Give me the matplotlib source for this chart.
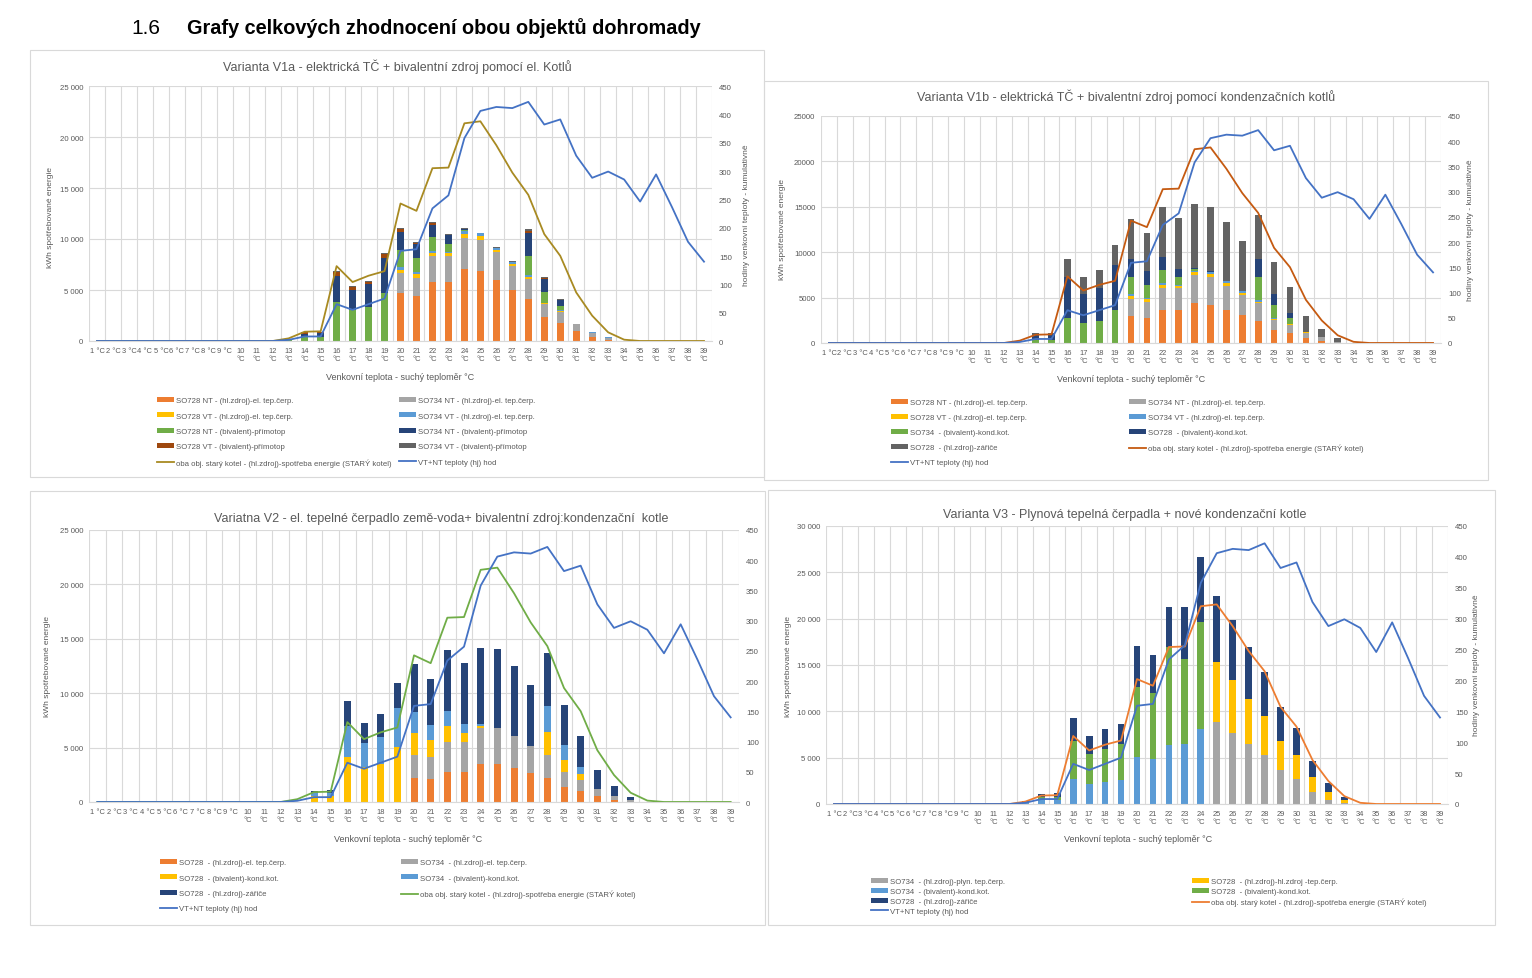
import numpy as np
import matplotlib
matplotlib.use('Agg')
import matplotlib.pyplot as plt
from matplotlib.patches import Rectangle
from matplotlib.ticker import FuncFormatter, MultipleLocator

plt.rcParams['font.family'] = ['Liberation Sans', 'DejaVu Sans']

W, H = 1532, 979
SEDA = '#595959'

# kategorie 1 °C .. 39 °C
teploty = ['1 °C', '2 °C', '3 °C', '4 °C', '5 °C', '6 °C', '7 °C', '8 °C', '9 °C'] + \
          [str(t) + '\n°C' for t in range(10, 40)]

# hodiny venkovni teploty (prava osa), stejne ve vsech grafech
hodiny = [0, 0, 0, 0, 0, 0, 0, 0, 0, 0, 0, 0, 2, 8, 8, 65, 55, 65, 75, 159,
          162, 234, 257, 358, 406, 413, 411, 422, 382, 391, 327, 288, 299, 285, 246, 294,
          236, 175, 140]
# stary kotel - spotreba energie (leva osa)
stary_kotel = [0, 0, 0, 0, 0, 0, 0, 0, 0, 0, 0, 0, 260, 910, 950, 7340, 5780, 6400, 6850, 13480,
               12760, 16940, 17000, 21340, 21540, 19190, 16510, 14330, 10480, 8350, 4760, 2480, 850, 130, 0, 0,
               0, 0, 0]

# sloupce - hodnoty od 13 °C do 33 °C (jinde nula)
# V1a
v1a_728nt_hl = [0, 0, 0, 0, 0, 0, 0, 4740, 4380, 5760, 5790, 7070, 6910, 5950, 5000, 4110, 2370, 1780, 1010, 390, 100]
v1a_734nt_hl = [0, 0, 0, 0, 0, 0, 0, 1940, 1840, 2560, 2530, 3030, 3020, 2770, 2340, 1940, 1220, 1080, 620, 430, 190]
v1a_728vt_hl = [0, 0, 0, 0, 0, 0, 0, 320, 360, 330, 270, 430, 370, 230, 190, 200, 90, 70, 0, 0, 0]
v1a_734vt_hl = [0, 0, 0, 0, 0, 0, 0, 240, 160, 170, 130, 290, 260, 190, 200, 200, 40, 70, 40, 30, 100]
v1a_728nt_biv = [50, 430, 430, 3790, 3030, 3360, 4670, 1710, 1380, 1340, 820, 100, 0, 0, 0, 1870, 1080, 390, 0, 0, 0]
v1a_734nt_biv = [50, 300, 390, 2620, 2000, 2200, 3450, 1740, 1420, 1250, 820, 100, 0, 0, 0, 2240, 1290, 620, 0, 0, 0]
v1a_728vt_biv = [50, 120, 50, 390, 270, 260, 400, 260, 80, 170, 70, 0, 0, 0, 0, 260, 130, 50, 0, 0, 0]
v1a_734vt_biv = [30, 50, 40, 110, 100, 100, 100, 140, 50, 100, 100, 70, 30, 70, 70, 130, 100, 100, 30, 30, 0]
# V1b
v1b_728nt_hl = [0, 0, 0, 0, 0, 0, 0, 2960, 2700, 3610, 3580, 4380, 4230, 3650, 3070, 2450, 1390, 1060, 510, 220, 30]
v1b_734nt_hl = [0, 0, 0, 0, 0, 0, 0, 1930, 1860, 2450, 2440, 3100, 3030, 2630, 2260, 1930, 1130, 950, 580, 400, 120]
v1b_728vt_hl = [0, 0, 0, 0, 0, 0, 0, 290, 260, 330, 290, 290, 290, 290, 220, 180, 140, 70, 80, 0, 0]
v1b_734vt_hl = [0, 0, 0, 0, 0, 0, 0, 180, 180, 220, 110, 150, 260, 250, 180, 220, 80, 40, 0, 0, 0]
v1b_734_biv = [0, 290, 290, 2700, 2150, 2410, 3580, 1940, 1420, 1380, 880, 180, 0, 0, 0, 2450, 1420, 660, 0, 0, 0]
v1b_728_biv = [0, 590, 660, 4560, 3210, 3610, 5000, 1970, 1500, 1430, 880, 180, 100, 0, 0, 2040, 1200, 540, 0, 0, 0]
v1b_728_zar = [0, 180, 180, 2010, 1900, 2010, 2220, 4380, 4160, 5510, 5540, 7010, 7050, 6460, 5550, 4820, 3550, 2850, 1790, 880, 360]
# V2
v2_728_hl = [0, 0, 0, 0, 0, 0, 0, 2210, 2120, 2790, 2790, 3500, 3500, 3100, 2640, 2210, 1410, 1040, 580, 150, 0]
v2_734_hl = [0, 0, 0, 0, 0, 0, 0, 2150, 2050, 2700, 2700, 3310, 3310, 2970, 2510, 2150, 1320, 1020, 590, 400, 150]
v2_728_biv = [0, 520, 520, 4170, 3190, 3500, 5030, 1960, 1540, 1500, 860, 210, 0, 0, 0, 2050, 1100, 520, 0, 0, 0]
v2_734_biv = [0, 310, 310, 2800, 2240, 2450, 3590, 1930, 1350, 1380, 830, 130, 0, 0, 0, 2420, 1420, 640, 0, 0, 0]
v2_728_zar = [0, 210, 270, 2320, 1870, 2120, 2300, 4420, 4200, 5590, 5610, 7050, 7210, 6410, 5590, 4850, 3620, 2880, 1740, 920, 340]
# V3
v3_734_plyn = [0, 0, 0, 0, 0, 0, 0, 0, 0, 0, 0, 0, 8850, 7700, 6470, 5250, 3670, 2700, 1330, 470, 70]
v3_728_tc = [0, 0, 0, 0, 0, 0, 0, 0, 0, 0, 0, 0, 6510, 5720, 4900, 4210, 3160, 2550, 1550, 860, 400]
v3_734_biv = [100, 430, 430, 2700, 2160, 2370, 2590, 5040, 4820, 6370, 6470, 8090, 0, 0, 0, 0, 0, 0, 0, 0, 0]
v3_728_biv = [100, 360, 290, 4130, 3240, 3600, 3880, 7620, 7120, 10540, 9180, 11510, 0, 0, 0, 0, 0, 0, 0, 0, 0]
v3_728_zar = [100, 290, 430, 2490, 1900, 2120, 2200, 4390, 4180, 4380, 5640, 7020, 7120, 6440, 5540, 4820, 3600, 2950, 1720, 970, 320]

ORANZ, SEDA_S, ZLUTA, MODRA_S = '#ED7D31', '#A5A5A5', '#FFC000', '#5B9BD5'
ZELENA, MODRA_T, HNEDA, SEDA_T = '#70AD47', '#264478', '#9E480E', '#636363'
LINKA_MODRA = '#4472C4'

LBL_KOTEL = 'oba obj. starý kotel - (hl.zdroj)-spotřeba energie (STARÝ kotel)'
LBL_HOD = 'VT+NT teploty (hj) hod'


def od13(vals):
    return [0] * 12 + list(vals) + [0] * (39 - 12 - len(vals))


def fx(x):
    return x / W


def fy(y):
    return 1 - y / H


fig = plt.figure(figsize=(W / 100, H / 100), dpi=100)
fig.patch.set_facecolor('white')

fig.text(fx(131), fy(28), '1.6', fontsize=15, va='center', ha='left', color='black')
fig.text(fx(187), fy(28), 'Grafy celkových zhodnocení obou objektů dohromady', fontsize=14.3,
         fontweight='bold', va='center', ha='left', color='black')


def panel(plot_px, box_px, title, title_xy, bars, kotel_color, ymax, fmt,
          ylab_xy, rlab_xy, xlab_xy, leg_xy, leg_col2_x, leg_space):
    x0, y0, x1, y1 = plot_px
    ax = fig.add_axes([fx(x0), fy(y1), (x1 - x0) / W, (y1 - y0) / H])
    bx0, by0, bx1, by1 = box_px
    fig.patches.append(Rectangle((fx(bx0), fy(by1)), (bx1 - bx0) / W, (by1 - by0) / H,
                                 transform=fig.transFigure, fill=False, ec='#d9d9d9', lw=0.8))

    x = np.arange(39)
    bottom = np.zeros(39)
    handles = []
    for vals, color, label in bars:
        v = np.array(od13(vals), dtype=float)
        b = ax.bar(x, v, 0.42, bottom=bottom, color=color, label=label, zorder=2)
        bottom += v
        handles.append(b)
    l1, = ax.plot(x, stary_kotel, color=kotel_color, lw=1.3, zorder=3, label=LBL_KOTEL)
    ax2 = ax.twinx()
    l2, = ax2.plot(x, hodiny, color=LINKA_MODRA, lw=1.3, label=LBL_HOD)
    handles += [l1, l2]

    ax.set_xlim(-0.5, 38.5)
    ax.set_ylim(0, ymax)
    ax2.set_ylim(0, 450)
    ax.yaxis.set_major_locator(MultipleLocator(5000))
    ax2.yaxis.set_major_locator(MultipleLocator(50))
    ax.yaxis.set_major_formatter(FuncFormatter(fmt))
    ax.set_xticks(x)
    ax.set_xticklabels(teploty, fontsize=5.4, color=SEDA, linespacing=1.3)
    ax.set_xticks(np.arange(-0.5, 39, 1), minor=True)
    ax.set_axisbelow(True)
    ax.grid(axis='y', which='major', color='#d9d9d9', lw=0.8)
    ax.grid(axis='x', which='minor', color='#d9d9d9', lw=0.8)
    ax.tick_params(which='both', length=0, labelsize=5.6, colors=SEDA, pad=4)
    ax.tick_params(axis='x', labelsize=5.4)
    ax2.tick_params(length=0, labelsize=5.6, colors=SEDA, pad=5)
    for s in ['top', 'left', 'right']:
        ax.spines[s].set_visible(False)
    ax.spines['bottom'].set_color('#d9d9d9')
    for s in ax2.spines.values():
        s.set_visible(False)

    fig.text(fx(title_xy[0]), fy(title_xy[1]), title, fontsize=9, color=SEDA, ha='center', va='center')
    fig.text(fx(ylab_xy[0]), fy(ylab_xy[1]), 'kWh spotřebované energie', fontsize=6, color=SEDA,
             rotation=90, ha='center', va='center')
    if rlab_xy is not None:
        fig.text(fx(rlab_xy[0]), fy(rlab_xy[1]), 'hodiny venkovní teploty - kumulativně', fontsize=6,
                 color=SEDA, rotation=90, ha='center', va='center')
    fig.text(fx(xlab_xy[0]), fy(xlab_xy[1]), 'Venkovní teplota - suchý teploměr °C', fontsize=6.5,
             color=SEDA, ha='center', va='center')

    # legenda radkove jako v Excelu: dva sloupce
    for col, lx in ((0, leg_xy[0]), (1, leg_col2_x)):
        hh = handles[col::2]
        fig.legend(hh, [h.get_label() for h in hh], loc='upper left',
                   bbox_to_anchor=(fx(lx), fy(leg_xy[1])), frameon=False, fontsize=5.6,
                   handlelength=2.2, handleheight=0.6, handletextpad=0.3, labelspacing=leg_space,
                   borderpad=0, borderaxespad=0, labelcolor=SEDA)
    return ax


mezera = lambda v, p: f'{int(v):,}'.replace(',', ' ')
bez = lambda v, p: f'{int(v)}'

panel((89, 87, 712, 342), (30, 51, 764, 478),
      'Varianta V1a - elektrická TČ + bivalentní zdroj pomocí el. Kotlů', (397, 67),
      [(v1a_728nt_hl, ORANZ, 'SO728 NT - (hl.zdroj)-el. tep.čerp.'),
       (v1a_734nt_hl, SEDA_S, 'SO734 NT - (hl.zdroj)-el. tep.čerp.'),
       (v1a_728vt_hl, ZLUTA, 'SO728 VT - (hl.zdroj)-el. tep.čerp.'),
       (v1a_734vt_hl, MODRA_S, 'SO734 VT - (hl.zdroj)-el. tep.čerp.'),
       (v1a_728nt_biv, ZELENA, 'SO728 NT - (bivalent)-přímotop'),
       (v1a_734nt_biv, MODRA_T, 'SO734 NT - (bivalent)-přímotop'),
       (v1a_728vt_biv, HNEDA, 'SO728 VT - (bivalent)-přímotop'),
       (v1a_734vt_biv, SEDA_T, 'SO734 VT - (bivalent)-přímotop')],
      '#A88A22', 25000, mezera, (50, 218), (746, 215), (400, 378), (157, 398), 399, 1.05)

panel((821, 117, 1441, 344), (764, 82, 1488, 481),
      'Varianta V1b - elektrická TČ + bivalentní zdroj pomocí kondenzačních kotlů', (1126, 97),
      [(v1b_728nt_hl, ORANZ, 'SO728 NT - (hl.zdroj)-el. tep.čerp.'),
       (v1b_734nt_hl, SEDA_S, 'SO734 NT - (hl.zdroj)-el. tep.čerp.'),
       (v1b_728vt_hl, ZLUTA, 'SO728 VT - (hl.zdroj)-el. tep.čerp.'),
       (v1b_734vt_hl, MODRA_S, 'SO734 VT - (hl.zdroj)-el. tep.čerp.'),
       (v1b_734_biv, ZELENA, 'SO734  - (bivalent)-kond.kot.'),
       (v1b_728_biv, MODRA_T, 'SO728  - (bivalent)-kond.kot.'),
       (v1b_728_zar, SEDA_T, 'SO728  - (hl.zdroj)-zářiče')],
      '#C55A11', 25000, bez, (783, 230), (1470, 230), (1131, 380), (891, 400), 1129, 1.0)

panel((89, 531, 739, 803), (30, 492, 765, 926),
      'Variatna V2 - el. tepelné čerpadlo země-voda+ bivalentní zdroj:kondenzační  kotle', (441, 519),
      [(v2_728_hl, ORANZ, 'SO728  - (hl.zdroj)-el. tep.čerp.'),
       (v2_734_hl, SEDA_S, 'SO734  - (hl.zdroj)-el. tep.čerp.'),
       (v2_728_biv, ZLUTA, 'SO728  - (bivalent)-kond.kot.'),
       (v2_734_biv, MODRA_S, 'SO734  - (bivalent)-kond.kot.'),
       (v2_728_zar, MODRA_T, 'SO728  - (hl.zdroj)-zářiče')],
      ZELENA, 25000, mezera, (48, 667), None, (408, 840), (160, 860), 401, 1.05)

panel((826, 527, 1448, 805), (768, 491, 1495, 926),
      'Varianta V3 - Plynová tepelná čerpadla + nové kondenzační kotle', (1125, 515),
      [(v3_734_plyn, SEDA_S, 'SO734  - (hl.zdroj)-plyn. tep.čerp.'),
       (v3_728_tc, ZLUTA, 'SO728  - (hl.zdroj)-hl.zdroj -tep.čerp.'),
       (v3_734_biv, MODRA_S, 'SO734  - (bivalent)-kond.kot.'),
       (v3_728_biv, ZELENA, 'SO728  - (bivalent)-kond.kot.'),
       (v3_728_zar, MODRA_T, 'SO728  - (hl.zdroj)-zářiče')],
      ORANZ, 30000, mezera, (788, 667), (1477, 665), (1138, 840), (871, 879), 1192, 0.35)

fig.savefig('out.png', dpi=100, facecolor='white')
